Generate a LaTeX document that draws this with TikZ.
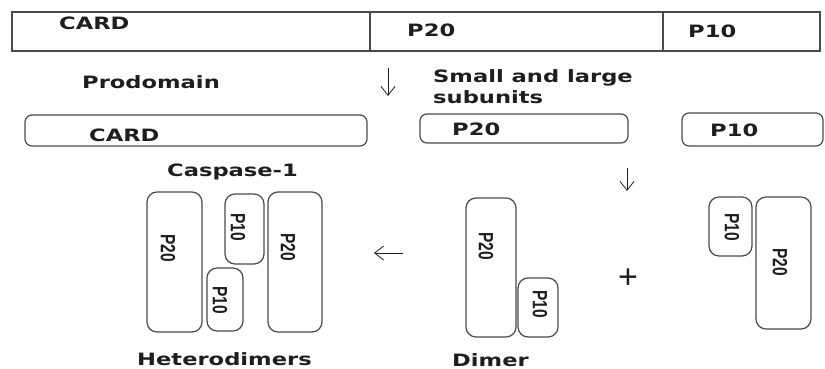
\documentclass[tikz,border=0pt]{standalone}
\usepackage{fontspec}
\usetikzlibrary{arrows.meta}
\newfontfamily\labfont{DejaVu Sans}[FakeStretch=1.33]
\newfontfamily\rotfont{Liberation Sans}
\newfontfamily\plusfont{Liberation Sans}
\definecolor{edge}{HTML}{4A4A4A}
\definecolor{ink}{HTML}{1E1E1E}
\newcommand{\tall}[1]{\scalebox{1}[1.33]{#1}}
\tikzset{
  lab/.style={font=\labfont\bfseries\fontsize{17}{21}\selectfont, text=ink, anchor=west, inner sep=0pt},
  rot/.style={font=\rotfont\bfseries\fontsize{15.5}{16}\selectfont, text=ink, rotate=-90, inner sep=0pt},
  bar/.style={draw=edge, line width=1.3pt},
  pill/.style={draw=edge, line width=1.2pt, rounded corners=7pt},
  sub/.style={draw=edge, line width=1.2pt, rounded corners=10pt},
  arr/.style={draw=ink, line width=0.8pt, -{Straight Barb[length=9pt,width=14pt]}}
}
\begin{document}
\begin{tikzpicture}[x=1pt,y=-1pt]
\useasboundingbox[fill=white] (0,0) rectangle (825,369);
% top bar
\draw[bar] (12,12) rectangle (820,51);
\coordinate (d1t) at (370,12); \coordinate (d1b) at (370,51);
\coordinate (d2t) at (663,12); \coordinate (d2b) at (663,51);
\draw[bar] (d1t) -- (d1b);
\draw[bar] (d2t) -- (d2b);
\node[lab] (tcard) at (59,23) {CARD};
\node[lab] (tp20) at (407,30) {P20};
\node[lab] (tp10) at (688,31) {P10};
% labels row
\node[lab] (prodomain) at (82,82) {Prodomain};
\node[lab,align=left] (small) at (433,86.5) {Small and large\\subunits};
\coordinate (a1s) at (388,68); \coordinate (a1e) at (388,96);
\draw[arr] (a1s) -- (a1e);
% second row
\draw[pill] (25,115) rectangle (367,146);
\node[lab] (card2) at (89,135) {CARD};
\draw[pill] (420,114) rectangle (628,143);
\node[lab] (p20b) at (452,129) {P20};
\draw[pill] (682,113) rectangle (823,146);
\node[lab] (p10b) at (710,130) {P10};
\coordinate (a2s) at (627,168); \coordinate (a2e) at (627,191);
\draw[arr] (a2s) -- (a2e);
% heterodimers
\node[lab] (casp) at (167,172) {Caspase-1};
\draw[sub] (147,192) rectangle (202,332);
\node[rot] (h1) at (168,248) {\tall{P20}};
\draw[sub] (225,194) rectangle (264,264);
\node[rot] (h2) at (238,227) {\tall{P10}};
\draw[sub] (268,192) rectangle (322,332);
\node[rot] (h3) at (288,247) {\tall{P20}};
\draw[sub] (207,268) rectangle (243,331);
\node[rot] (h4) at (220,300) {\tall{P10}};
\node[lab] (hetero) at (137,359) {Heterodimers};
\coordinate (a3s) at (403,253); \coordinate (a3e) at (374,253);
\draw[arr] (a3s) -- (a3e);
% dimer
\draw[sub] (466,198) rectangle (516,337);
\node[rot] (d1) at (486,246) {\tall{P20}};
\draw[sub] (518,278) rectangle (558,337);
\node[rot] (d2) at (540,304) {\tall{P10}};
\node[lab] (dimer) at (452,360) {Dimer};
\node[font=\plusfont\fontsize{34}{34}\selectfont, text=ink, inner sep=0pt] (plus) at (628,279) {+};
% right pair
\draw[sub] (709,197) rectangle (752,256);
\node[rot] (r1) at (732,227) {\tall{P10}};
\draw[sub] (756,197) rectangle (811,329);
\node[rot] (r2) at (780,262) {\tall{P20}};
\end{tikzpicture}
\end{document}
